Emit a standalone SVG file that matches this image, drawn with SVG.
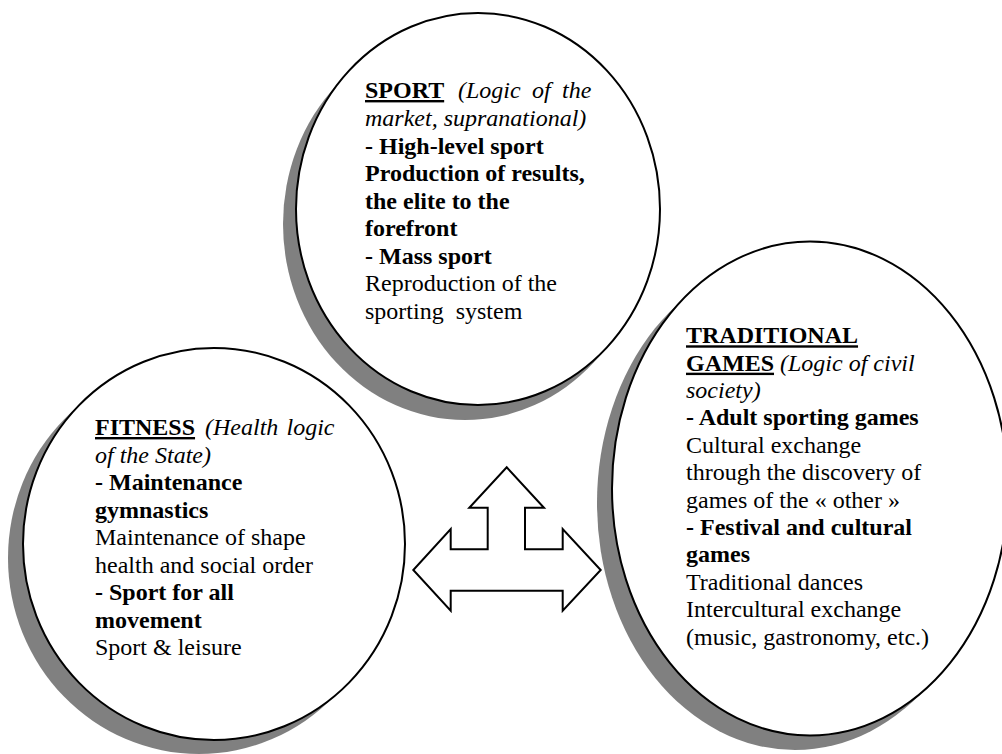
<svg xmlns="http://www.w3.org/2000/svg" width="1002" height="754" viewBox="0 0 1002 754">
<style>
  .shadow { fill: #808080; stroke: none; }
  .disc { fill: #ffffff; stroke: #000000; stroke-width: 2; }
  .arrow { fill: #ffffff; stroke: #000000; stroke-width: 2; stroke-linejoin: miter; }
  .t { font-family: "Liberation Serif", "Times New Roman", serif; font-size: 24px; fill: #000000; }
  .b { font-weight: bold; }
  .i { font-style: italic; }
  .u { font-weight: bold; text-decoration: underline; }
</style>
<rect width="1002" height="754" fill="#ffffff"/>

<g id="node-sport">
  <ellipse class="shadow" cx="465" cy="224" rx="182" ry="196"/>
  <ellipse class="disc" cx="478" cy="209" rx="182" ry="196"/>
  <g class="t">
    <text x="365" y="98"><tspan class="u">SPORT</tspan><tspan class="i" x="458">(Logic</tspan><tspan class="i" x="532">of</tspan><tspan class="i" x="562">the</tspan></text>
    <text class="i" x="365" y="126">market, supranational)</text>
    <text class="b" x="365" y="153.5">- High-level sport</text>
    <text class="b" x="365" y="181">Production of results,</text>
    <text class="b" x="365" y="208.5">the elite to the</text>
    <text class="b" x="365" y="236">forefront</text>
    <text class="b" x="365" y="263.5">- Mass sport</text>
    <text x="365" y="291">Reproduction of the</text>
    <text x="365" y="318.5" xml:space="preserve">sporting  system</text>
  </g>
</g>

<g id="node-fitness">
  <ellipse class="shadow" cx="199" cy="558" rx="191" ry="196"/>
  <ellipse class="disc" cx="214" cy="544" rx="191" ry="196"/>
  <g class="t">
    <text x="95" y="435"><tspan class="u">FITNESS</tspan><tspan class="i" x="205">(Health</tspan><tspan class="i" x="286.5">logic</tspan></text>
    <text class="i" x="95" y="462.5">of the State)</text>
    <text class="b" x="95" y="490">- Maintenance</text>
    <text class="b" x="95" y="517.5">gymnastics</text>
    <text x="95" y="545">Maintenance of shape</text>
    <text x="95" y="572.5">health and social order</text>
    <text class="b" x="95" y="600">- Sport for all</text>
    <text class="b" x="95" y="627.5">movement</text>
    <text x="95" y="655">Sport &amp; leisure</text>
  </g>
</g>

<g id="node-traditional">
  <ellipse class="shadow" cx="795" cy="503" rx="198" ry="247"/>
  <ellipse class="disc" cx="810" cy="488.5" rx="198" ry="247"/>
  <g class="t">
    <text class="u" x="686" y="343.3">TRADITIONAL</text>
    <text x="686" y="370.7"><tspan class="u">GAMES</tspan><tspan class="i"> (Logic of civil</tspan></text>
    <text class="i" x="686" y="398">society)</text>
    <text class="b" x="686" y="425.4">- Adult sporting games</text>
    <text x="686" y="452.8">Cultural exchange</text>
    <text x="686" y="480.2">through the discovery of</text>
    <text x="686" y="507.6">games of the « other »</text>
    <text class="b" x="686" y="535">- Festival and cultural</text>
    <text class="b" x="686" y="562.4">games</text>
    <text x="686" y="589.8">Traditional dances</text>
    <text x="686" y="617.2">Intercultural exchange</text>
    <text x="686" y="644.6">(music, gastronomy, etc.)</text>
  </g>
</g>

<g id="connectors">
  <path class="arrow" d="M506.7,467.3 L544,507.7 L525,507.7 L525,549.3 L562.7,549.3 L562.7,529 L600.7,570 L562.7,610.7 L562.7,590.7 L450.7,590.7 L450.7,610.7 L413.3,570 L450.7,529 L450.7,549.3 L487.7,549.3 L487.7,507.7 L469.3,507.7 Z"/>
</g>
</svg>
